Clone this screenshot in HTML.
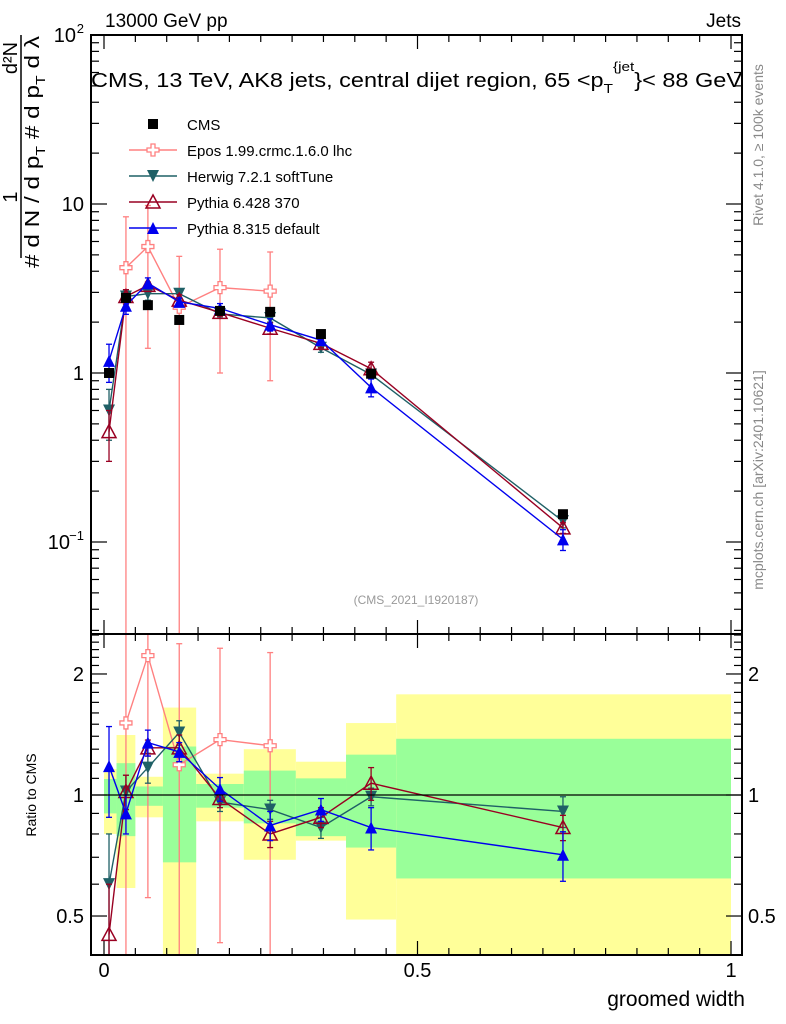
<!DOCTYPE html>
<html><head><meta charset="utf-8"><style>
body{margin:0;background:#fff}
svg{display:block;font-family:"Liberation Sans",sans-serif}
</style></head><body>
<svg id="c" width="786" height="1024" viewBox="0 0 786 1024" xmlns="http://www.w3.org/2000/svg">
<g id="bands"></g>
<g id="grid"></g>
<g id="series"></g>
<g id="axes"></g>
<text x="105" y="27" font-size="19">13000 GeV pp</text>
<text x="741" y="27" font-size="19" text-anchor="end">Jets</text>
<text x="91" y="87" font-size="20" textLength="651" lengthAdjust="spacingAndGlyphs">CMS, 13 TeV, AK8 jets, central dijet region, 65 &lt;p<tspan font-size="13" dy="6">T</tspan><tspan font-size="13" dy="-22">{jet</tspan><tspan dy="16">}&lt; 88 GeV</tspan></text>
<text x="416" y="604" font-size="12" fill="#999" text-anchor="middle">(CMS_2021_I1920187)</text>
<text transform="translate(763,145) rotate(-90)" font-size="14" fill="#888" text-anchor="middle">Rivet 4.1.0, ≥ 100k events</text>
<text transform="translate(763,480) rotate(-90)" font-size="14" fill="#888" text-anchor="middle">mcplots.cern.ch [arXiv:2401.10621]</text>
<g font-size="20">
<text transform="translate(17,197) rotate(-90)" text-anchor="middle">1</text>
<text transform="translate(17,58) rotate(-90)" text-anchor="middle">d²N</text>
<line x1="21" y1="35" x2="21" y2="258" stroke="#000" stroke-width="1.5"/>
<text transform="translate(39,268) rotate(-90)" textLength="232" lengthAdjust="spacingAndGlyphs"># d N / d p<tspan font-size="13" dy="6">T</tspan><tspan dy="-6"> # d p</tspan><tspan font-size="13" dy="6">T</tspan><tspan dy="-6"> d λ</tspan></text>
</g>
<text transform="translate(36,795) rotate(-90)" font-size="14" text-anchor="middle">Ratio to CMS</text>
<text x="745" y="1006" font-size="21" text-anchor="end">groomed width</text>
<g id="legend"></g>
</svg>
<script>
const xs=[0.008,0.035,0.070,0.120,0.185,0.265,0.346,0.426,0.732];
const cms=[1.0,2.78,2.52,2.06,2.33,2.3,1.70,0.99,0.146];
const binEdges=[0,0.02,0.05,0.094,0.147,0.223,0.306,0.386,0.466,1.0];
const yelHi=[1.16,1.41,1.11,1.65,1.13,1.30,1.21,1.51,1.78];
const yelLo=[0.80,0.587,0.88,0.30,0.86,0.69,0.77,0.49,0.30];
const grnHi=[1.096,1.20,1.05,1.32,1.065,1.15,1.10,1.26,1.38];
const grnLo=[0.90,0.79,0.94,0.68,0.93,0.85,0.79,0.74,0.62];
const herwigR=[0.60,1.02,1.17,1.43,0.96,0.92,0.83,0.99,0.91];
const herwigE=[0.2,0.1,0.1,0.1,0.05,0.05,0.05,0.05,0.08];
const py6R=[0.45,1.02,1.31,1.31,0.98,0.80,0.88,1.07,0.83];
const py6E=[0.15,0.1,0.06,0.1,0.05,0.06,0.05,0.1,0.06];
const py8R=[1.18,0.90,1.35,1.28,1.035,0.84,0.92,0.83,0.71];
const py8E=[0.3,0.1,0.1,0.07,0.07,0.07,0.06,0.1,0.1];
const eposX=[0.035,0.070,0.120,0.185,0.265];
const eposV=[4.2,5.6,2.45,3.2,3.05];
const eposE=[4.2,4.2,2.45,2.2,2.15];
const xTicks=[0,0.5,1];
const xTickLabels=["0","0.5","1"];

const NS="http://www.w3.org/2000/svg";
const L=91,R=742,T=35,MB=634,RB=955;
const X=v=>104+v*627;
const Y=v=>373-169*Math.log10(v);
const YR=v=>795-402*Math.log10(v);
function mk(tag,a,p){const e=document.createElementNS(NS,tag);for(const k in a)e.setAttribute(k,a[k]);(p||document.getElementById('series')).appendChild(e);return e;}
const clampM=y=>Math.max(T,Math.min(MB,y)), clampR=y=>Math.max(MB,Math.min(RB,y));

const bg=document.getElementById('bands');
for(let i=0;i<yelHi.length;i++){
 const x1=X(binEdges[i]),x2=X(binEdges[i+1]);
 let y1=clampR(YR(yelHi[i])),y2=clampR(YR(yelLo[i]));
 let e=mk('rect',{x:x1,y:y1,width:x2-x1,height:y2-y1,fill:'#ffff99'},bg);
 
 
 y1=clampR(YR(grnHi[i]));y2=clampR(YR(grnLo[i]));
 e=mk('rect',{x:x1,y:y1,width:x2-x1,height:y2-y1,fill:'#99ff99'},bg);
 
 
}
const ax=document.getElementById('axes');
let ln=mk('line',{x1:L,x2:R,y1:YR(1),y2:YR(1),stroke:'#000','stroke-width':1.3},ax);



function marker(type,x,y,col,g){
 const s=6;let e;
 if(type==='sq')e=mk('rect',{x:x-5,y:y-5,width:10,height:10,fill:'#000'},g);
 else if(type==='down')e=mk('polygon',{points:`${x-s},${y-s} ${x+s},${y-s} ${x},${y+s}`,fill:col},g);
 else if(type==='up')e=mk('polygon',{points:`${x-s},${y+s} ${x+s},${y+s} ${x},${y-s}`,fill:col},g);
 else if(type==='open')e=mk('polygon',{points:`${x-7},${y+6} ${x+7},${y+6} ${x},${y-7}`,fill:'none',stroke:col,'stroke-width':1.5},g);
 else if(type==='cross')e=mk('path',{d:`M${x-2},${y-6}h4v4h4v4h-4v4h-4v-4h-4v-4h4z`,fill:'#fff',stroke:col,'stroke-width':1.3},g);
 
 
}
function series(name,xv,vals,errs,col,type,yf,clamp){
 const g=mk('g',{});
 
 
 const pts=xv.map((x,i)=>[X(x),yf(vals[i])]);
 if(col){const pl=mk('polyline',{points:pts.map(p=>p.join(',')).join(' '),fill:'none',stroke:col,'stroke-width':1.4},g);
  
  }
 xv.forEach((x,i)=>{
  if(errs){const lo=vals[i]-errs[i];
   const y1=clamp(yf(vals[i]+errs[i])),y2=lo>0?clamp(yf(lo)):(clamp===clampM?MB:RB);
   const e=mk('line',{x1:pts[i][0],x2:pts[i][0],y1:y1,y2:y2,stroke:col,'stroke-width':1.3},g);
   
   
   mk('line',{x1:pts[i][0]-3,x2:pts[i][0]+3,y1:y1,y2:y1,stroke:col,'stroke-width':1.3},g);
   if(lo>0)mk('line',{x1:pts[i][0]-3,x2:pts[i][0]+3,y1:y2,y2:y2,stroke:col,'stroke-width':1.3},g);}
  marker(type,pts[i][0],pts[i][1],col,g);
 });
}
const mul=(r)=>r.map((v,i)=>v*cms[i]);
series('epos-main',eposX,eposV,eposE,'#ff8080','cross',Y,clampM);
series('herwig-main',xs,mul(herwigR),mul(herwigE),'#1f6066','down',Y,clampM);
series('pythia6-main',xs,mul(py6R),mul(py6E),'#990022','open',Y,clampM);
series('pythia8-main',xs,mul(py8R),mul(py8E),'#0000ee','up',Y,clampM);
series('cms-data',xs,cms,null,null,'sq',Y,clampM);
const eposIdx=eposX.map(x=>xs.indexOf(x));
series('epos-ratio',eposX,eposV.map((v,i)=>v/cms[eposIdx[i]]),eposE.map((v,i)=>v/cms[eposIdx[i]]),'#ff8080','cross',YR,clampR);
series('herwig-ratio',xs,herwigR,herwigE,'#1f6066','down',YR,clampR);
series('pythia6-ratio',xs,py6R,py6E,'#990022','open',YR,clampR);
series('pythia8-ratio',xs,py8R,py8E,'#0000ee','up',YR,clampR);

[[T,MB],[MB,RB]].forEach(([a,b],k)=>{const f=mk('rect',{x:L,y:a,width:R-L,height:b-a,fill:'none',stroke:'#000','stroke-width':2},ax);
 
 });
for(let v=0;v<=1.0001;v+=0.05){const major=Math.abs(v*2-Math.round(v*2))<1e-6;const len=major?14:7;const px=X(v);
 [[T,1],[MB,-1],[MB,1],[RB,-1]].forEach(([y,d])=>mk('line',{x1:px,x2:px,y1:y,y2:y+d*len,stroke:'#000','stroke-width':1.2},ax));}
xTicks.forEach((v,i)=>{const t=mk('text',{x:X(v),y:977,'font-size':20,'text-anchor':'middle'},ax);t.textContent=xTickLabels[i];
 
 });
for(let d=-2;d<=2;d++)for(let m=1;m<10;m++){const v=m*Math.pow(10,d);const y=Y(v);if(y<T-0.5||y>MB)continue;const len=m===1?16:8;
 mk('line',{x1:L,x2:L+len,y1:y,y2:y,stroke:'#000','stroke-width':1.2},ax);mk('line',{x1:R,x2:R-len,y1:y,y2:y,stroke:'#000','stroke-width':1.2},ax);}
[[100,'10','2'],[10,'10',''],[1,'1',''],[0.1,'10','−1']].forEach(([v,b,e])=>{
 const t=mk('text',{x:e?84-(e.length>1?14:8):84,y:Y(v)+7,'font-size':20,'text-anchor':'end'},ax);t.textContent=b;
 
 
 if(e){const s=mk('text',{x:84,y:Y(v)-2,'font-size':13,'text-anchor':'end'},ax);s.textContent=e;}});
for(let v=0.4;v<=2.5001;v+=0.1){const y=YR(v);if(y<MB||y>RB)continue;const maj=[0.5,1,2].some(m=>Math.abs(v-m)<1e-6);const len=maj?16:8;
 mk('line',{x1:L,x2:L+len,y1:y,y2:y,stroke:'#000','stroke-width':1.2},ax);mk('line',{x1:R,x2:R-len,y1:y,y2:y,stroke:'#000','stroke-width':1.2},ax);}
[[2,'2'],[1,'1'],[0.5,'0.5']].forEach(([v,s])=>{
 let t=mk('text',{x:84,y:YR(v)+7,'font-size':20,'text-anchor':'end'},ax);t.textContent=s;
 
 
 t=mk('text',{x:748,y:YR(v)+7,'font-size':20},ax);t.textContent=s;
 
 });
const lg=document.getElementById('legend');
[['CMS',null,'sq'],['Epos 1.99.crmc.1.6.0 lhc','#ff8080','cross'],['Herwig 7.2.1 softTune','#1f6066','down'],['Pythia 6.428 370','#990022','open'],['Pythia 8.315 default','#0000ee','up']].forEach(([n,c,t],i)=>{
 const y=124+i*26;const g=mk('g',{},lg);
 
 
 if(c)mk('line',{x1:129,x2:177,y1:y,y2:y,stroke:c,'stroke-width':1.4},g);
 marker(t,153,y,c,g);
 const tx=mk('text',{x:187,y:y+6,'font-size':15},g);tx.textContent=n;});
</script>
</body></html>
